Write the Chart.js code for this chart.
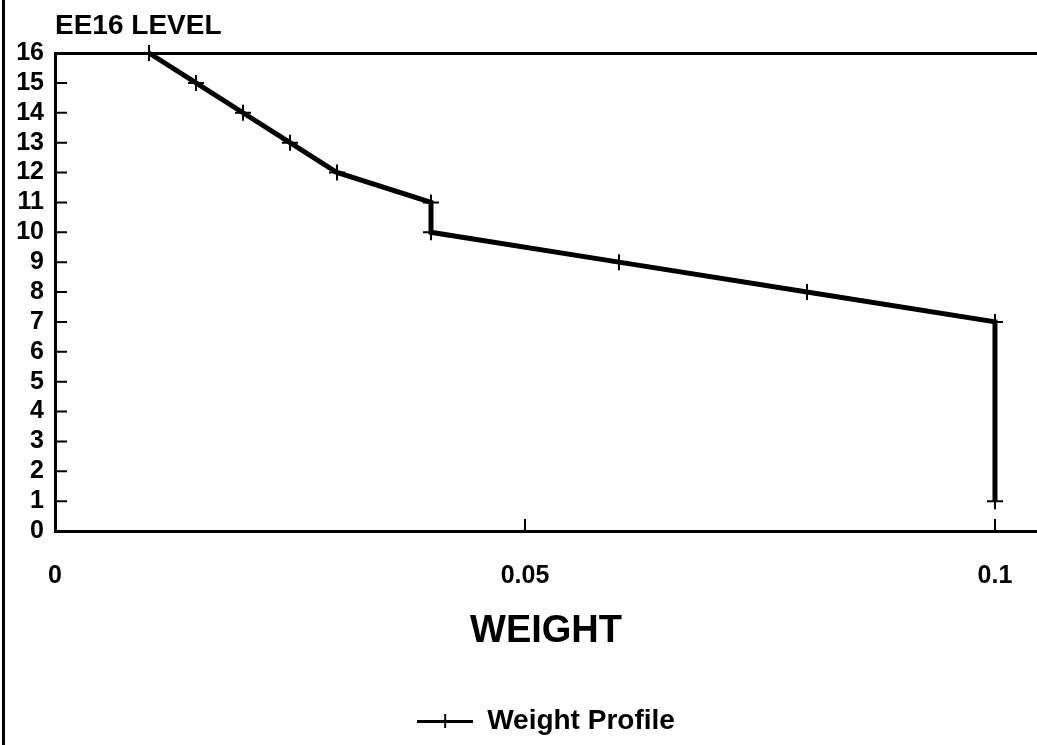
<!DOCTYPE html>
<html>
<head>
<meta charset="utf-8">
<script src="https://cdn.jsdelivr.net/npm/chart.js@4"></script>
<style>
  body { margin: 0; background: #fff; overflow: hidden; }
  #wrap { position: relative; width: 1037px; height: 745px; overflow: hidden; }
  #edge { position: absolute; left: 2px; top: 0; width: 3px; height: 745px; background: #000; }
</style>
</head>
<body>
<div id="wrap">
  <canvas id="chart" width="1037" height="745"></canvas>
  <div id="edge"></div>
</div>
<script>
const weights = [0.01, 0.015, 0.02, 0.025, 0.03, 0.04, 0.04, 0.06, 0.08, 0.1, 0.1]
const levels = [16, 15, 14, 13, 12, 11, 10, 9, 8, 7, 1]
const levelTicks = [0, 1, 2, 3, 4, 5, 6, 7, 8, 9, 10, 11, 12, 13, 14, 15, 16]
const weightTicks = [0, 0.05, 0.1]
const weightLabels = ["0", "0.05", "0.1"]

const FONT = "'Liberation Sans', Arial, sans-serif"

// little line-with-cross sample for the legend
function legendSample() {
  const c = document.createElement("canvas")
  c.width = 56
  c.height = 16
  const g = c.getContext("2d")
  g.fillStyle = "#000"
  g.fillRect(0, 7, 56, 3)
  g.fillRect(27, 1, 2, 14)
  return c
}

// tick marks that point into the plot
const innerTicks = {
  id: "innerTicks",
  beforeDatasetsDraw(chart) {
    const { ctx, chartArea, scales } = chart
    ctx.save()
    ctx.strokeStyle = "#000"
    ctx.lineWidth = 2
    ctx.beginPath()
    levelTicks.forEach(v => {
      if (v === 0 || v === 16) return
      const y = scales.y.getPixelForValue(v)
      ctx.moveTo(chartArea.left, y)
      ctx.lineTo(chartArea.left + 12, y)
    })
    weightTicks.forEach(v => {
      if (v === 0) return
      const x = scales.x.getPixelForValue(v)
      ctx.moveTo(x, chartArea.bottom)
      ctx.lineTo(x, chartArea.bottom - 12)
    })
    ctx.stroke()
    ctx.restore()
  }
}

new Chart(document.getElementById("chart"), {
  type: "line",
  data: {
    datasets: [{
      label: "Weight Profile",
      data: weights.map((w, i) => ({ x: w, y: levels[i] })),
      borderColor: "#000",
      backgroundColor: "#000",
      borderWidth: 5,
      tension: 0,
      pointStyle: "cross",
      pointRadius: 8,
      pointBorderWidth: 2,
      pointBorderColor: "#000",
      clip: false
    }]
  },
  options: {
    responsive: false,
    animation: false,
    layout: { padding: 0, autoPadding: false },
    plugins: {
      tooltip: { enabled: false },
      title: {
        display: true,
        text: "EE16 LEVEL",
        align: "start",
        fullSize: false,
        color: "#000",
        font: { family: FONT, size: 28, weight: "bold" },
        padding: { top: 9, bottom: 10.4 }
      },
      legend: {
        position: "bottom",
        fullSize: false,
        labels: {
          usePointStyle: true,
          pointStyle: legendSample(),
          pointStyleWidth: 56,
          color: "#000",
          font: { family: FONT, size: 28, weight: "bold" },
          padding: 10
        }
      }
    },
    scales: {
      x: {
        type: "linear",
        min: 0,
        max: 0.10447,
        afterBuildTicks: s => { s.ticks = weightTicks.map(v => ({ value: v })) },
        afterFit: s => {
          s.height = 166
          s.paddingLeft = 0
          s.paddingRight = 0
        },
        ticks: {
          color: "#000",
          font: { family: FONT, size: 25, weight: "bold" },
          padding: 30,
          maxRotation: 0,
          callback: (v) => weightLabels[weightTicks.indexOf(v)]
        },
        grid: { display: true, drawOnChartArea: false, drawTicks: false },
        border: { display: true, color: "#000", width: 3 },
        title: {
          display: true,
          text: "WEIGHT",
          color: "#000",
          font: { family: FONT, size: 38, weight: "bold" },
          padding: { top: 0, bottom: 43 }
        }
      },
      x2: {
        type: "linear",
        position: "top",
        min: 0,
        max: 1,
        ticks: { display: false },
        grid: { display: true, drawOnChartArea: false, drawTicks: false },
        border: { display: true, color: "#000", width: 3 }
      },
      y: {
        min: 0,
        max: 16,
        afterBuildTicks: s => { s.ticks = levelTicks.map(v => ({ value: v })) },
        afterFit: s => { s.width = 55 },
        ticks: {
          color: "#000",
          font: { family: FONT, size: 25, weight: "bold" },
          padding: 11,
          autoSkip: false
        },
        grid: { display: true, drawOnChartArea: false, drawTicks: false },
        border: { display: true, color: "#000", width: 3 }
      }
    }
  },
  plugins: [innerTicks]
})
</script>
</body>
</html>
